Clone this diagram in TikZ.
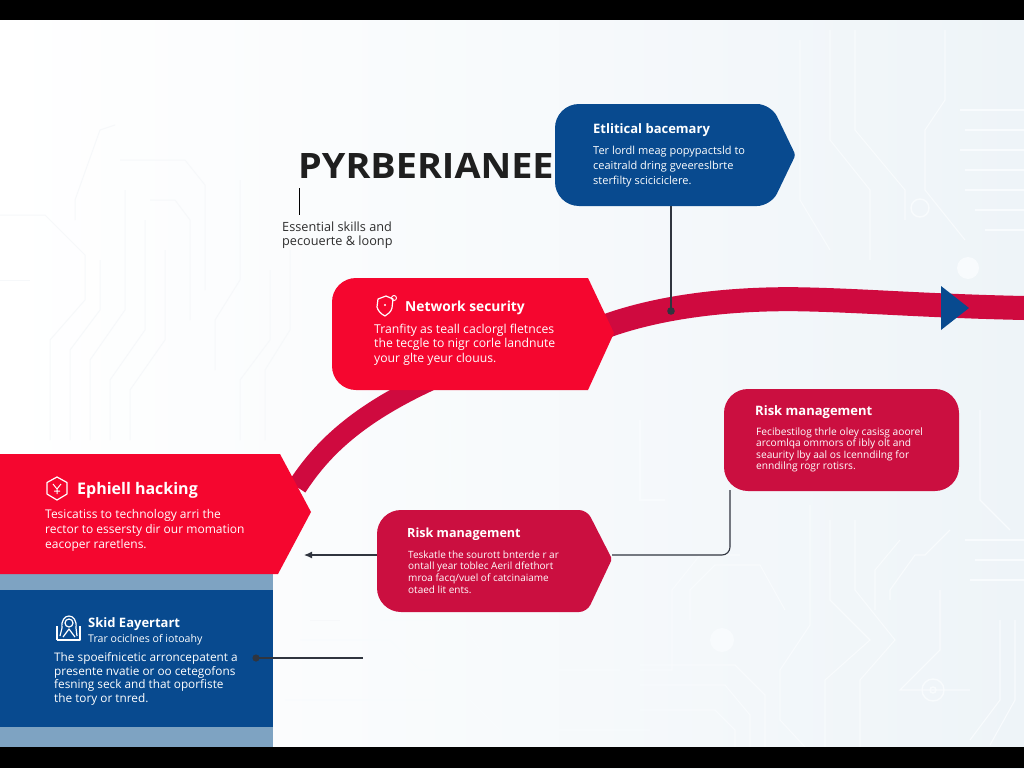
\documentclass[tikz,border=0pt]{standalone}
\usepackage{fontspec}
\setmainfont{Open Sans}
\usetikzlibrary{arrows.meta,calc}
\definecolor{navy}{HTML}{084A8F}
\definecolor{paleblue}{HTML}{7EA3C2}
\definecolor{brightred}{HTML}{F5062F}
\definecolor{crim}{HTML}{CB0F40}
\definecolor{band}{HTML}{CF0A3F}
\definecolor{inkline}{HTML}{30353F}
\definecolor{traceleft}{HTML}{F6F8FA}
\definecolor{traceright}{HTML}{F8FBFD}
\definecolor{bgright}{HTML}{EEF4F8}
\tikzset{
  x=1pt,y=-1pt,
  panelshape/.style={line width=0pt,rounded corners=24pt},
  headtext/.style={anchor=west,inner sep=0pt,text=white,font=\fontsize{#1}{#1}\selectfont\bfseries},
  bodytext/.style 2 args={anchor=north west,inner sep=0pt,text=white,align=left,font=\fontsize{#1}{#2}\selectfont},
  wire/.style={draw=inkline,line width=1.1pt},
  iconline/.style={draw=white,line width=1.2pt,line join=round},
}
\begin{document}
\begin{tikzpicture}
\useasboundingbox (0,0) rectangle (1024,768);
\shade[left color=white,right color=bgright,middle color=white!55!bgright] (0,0) rectangle (1024,768);
% faint circuit board traces, left part
\foreach \p in {
 {(75,220)--(75,200)--(100,130)--(115,125)},
 {(120,160)--(185,160)--(205,185)--(205,290)},
 {(150,200)--(175,200)--(190,220)--(190,320)},
 {(240,180)--(240,280)--(215,320)--(215,370)},
 {(0,215)--(45,215)--(85,255)--(85,300)--(50,340)--(50,440)},
 {(0,280)--(30,280)},
 {(100,260)--(100,310)--(70,350)--(70,440)},
 {(125,190)--(125,310)--(90,360)--(90,440)},
 {(145,220)--(145,330)--(110,380)--(110,440)},
 {(165,250)--(165,340)--(130,390)--(130,440)},
 {(270,270)--(270,340)--(240,380)--(240,440)},
 {(290,250)--(290,330)--(265,370)--(265,440)},
 {(310,620)--(340,620)}
}{\draw[traceleft,line width=1pt] \p;}
% faint circuit board traces, right part
\foreach \p in {
 {(640,665)--(735,665)--(765,695)--(765,747)},
 {(640,685)--(725,685)--(750,715)--(750,747)},
 {(640,710)--(715,710)--(735,730)--(735,747)},
 {(640,670)--(672,670)--(672,590)--(700,555)--(740,555)},
 {(690,620)--(690,590)--(715,565)--(760,565)--(785,610)},
 {(810,505)--(810,625)--(780,670)--(780,720)--(805,747)},
 {(830,520)--(830,600)--(870,640)--(825,680)--(825,747)},
 {(855,520)--(855,590)--(895,640)--(860,680)--(860,747)},
 {(900,540)--(875,570)--(875,610)},
 {(950,530)--(925,555)--(915,555)--(890,590)--(890,600)},
 {(940,590)--(940,650)--(900,690)--(970,690)},
 {(965,540)--(1024,540)},{(975,560)--(1024,560)},{(970,580)--(1024,580)},
 {(1000,620)--(1000,700)--(970,740)},{(1015,620)--(1015,700)--(990,745)},
 {(830,30)--(830,140)--(870,190)--(870,260)},
 {(855,30)--(855,130)--(905,190)--(905,220)},
 {(945,30)--(945,100)--(925,130)--(925,190)--(965,240)},
 {(960,110)--(1024,110)},{(965,130)--(1024,130)},{(960,150)--(1024,150)},
 {(965,170)--(1024,170)},{(965,190)--(1024,190)},
 {(975,210)--(1024,210)},{(985,230)--(1024,230)},
 {(800,40)--(800,200)--(830,250)},
 {(450,420)--(450,490)},{(640,420)--(640,500)--(665,500)},
 {(300,640)--(390,640)--(420,670)--(620,670)},
 {(285,700)--(470,700)--(500,730)--(650,730)},
 {(380,620)--(460,620)--(480,650)},
 {(980,410)--(980,500)--(1010,530)}
}{\draw[traceright,line width=1.1pt] \p;}
\fill[traceright] (722,640) circle (12);
\draw[traceright,line width=1.5pt] (933,690) circle (11) (933,690) circle (3);
\draw[traceright,line width=1.5pt] (920,208) circle (9);
\fill[traceright] (968,268) circle (11);
% top and bottom bars
\fill[black] (0,0) rectangle (1024,20);
\fill[black] (0,747) rectangle (1024,768);
% curved ribbon
\coordinate (ribbonstart) at (297,487);
\coordinate (ribbonend) at (1024,308);
\draw[band,line width=24pt] (500,350)
  .. controls (540,342) and (580,336) .. (612,324)
  .. controls (680,301) and (760,298) .. (810,299.5)
  .. controls (870,301) and (930,306) .. (ribbonend);
\draw[band,line width=20pt] (ribbonstart) .. controls (320,452) and (355,412) .. (450,372);
% ribbon arrowhead
\coordinate (ribbontip) at (969,308);
\fill[navy] (941,286) -- (ribbontip) -- (941,330) -- cycle;
% panels
\fill[navy,panelshape] (555,155) -- (555,104) [rounded corners=14pt] -- (771,104) [rounded corners=3pt] -- (795.5,155) [rounded corners=14pt] -- (771,206) [rounded corners=24pt] -- (555,206) -- cycle;
\fill[brightred,panelshape] (332,330) -- (332,278) [sharp corners] -- (588,278) -- (614,333) -- (588,390) [rounded corners=24pt] -- (332,390) -- cycle;
\fill[paleblue] (0,574) rectangle (273,747);
\fill[navy] (0,590) rectangle (273,727);
\fill[brightred] (0,454) -- (280,454) -- (311,512) -- (278,574) -- (0,574) -- cycle;
\fill[crim,panelshape] (377,560) -- (377,510) [rounded corners=8pt] -- (587,510) [rounded corners=2pt] -- (612,559) [rounded corners=8pt] -- (587,612) [rounded corners=24pt] -- (377,612) -- cycle;
\fill[crim,rounded corners=24pt] (724,389) rectangle (959,491);
% anchors and wires
\coordinate (ethbottom) at (671,206);
\coordinate (ribbondot) at (671,311);
\coordinate (riskleft) at (377,555);
\coordinate (riskarrow) at (304,555);
\coordinate (riskright) at (612,555);
\coordinate (mgmtbottom) at (730,490);
\coordinate (bluedot) at (256,658);
\coordinate (blueend) at (363,658);
\coordinate (titlebarA) at (299,188);
\coordinate (titlebarB) at (299,215);
\draw[wire] (ethbottom) -- (ribbondot);
\fill[inkline] (ribbondot) circle (3.8);
\draw[wire,-{Latex[length=8pt,width=7pt]}] (riskleft) -- (riskarrow);
\draw[wire,rounded corners=8pt] (riskright) -- (730,555) -- (mgmtbottom);
\draw[wire] (bluedot) -- (blueend);
\fill[inkline] (bluedot) circle (3.6);
\draw[black,line width=1pt] (titlebarA) -- (titlebarB);
% title
\node[anchor=base west,inner sep=0pt,text=black!88,font=\fontsize{35}{35}\selectfont\bfseries] (title) at (298,178) {\scalebox{1.08}[1]{PYRBERIANEE}};
\node[anchor=north west,inner sep=0pt,align=left,text=black!82,font=\fontsize{12.7}{14}\selectfont] (subtitle) at (282,221.5) {Essential skills and\\pecouerte \& loonp};
% ethical
\node[headtext=13] (ethhead) at (593,130.5) {Etlitical bacemary};
\node[bodytext={11}{15}] (ethbody) at (593,145.5) {Ter lordl meag popypactsld to\\ceaitrald dring gveereslbrte\\sterfilty sciciciclere.};
% network
\node[headtext=13.8] (nethead) at (405,307.5) {Network security};
\node[bodytext={12.2}{14.5}] (netbody) at (374,323.5) {Tranfity as teall caclorgl fletnces\\the tecgle to nigr corle landnute\\your glte yeur clouus.};
% ephiell
\node[headtext=16] (ephhead) at (77,490.5) {Ephiell hacking};
\node[bodytext={12}{15}] (ephbody) at (45,509) {Tesicatiss to technology arri the\\rector to essersty dir our momation\\eacoper raretlens.};
% skid
\node[headtext=13] (skidhead) at (88,624) {Skid Eayertart};
\node[anchor=west,inner sep=0pt,text=white,font=\fontsize{10.6}{11}\selectfont] (skidsub) at (88,640) {Trar ociclnes of iotoahy};
\node[bodytext={11.8}{13.6}] (skidbody) at (54,652.5) {The spoeifnicetic arroncepatent a\\presente nvatie or oo cetegofons\\fesning seck and that oporfiste\\the tory or tnred.};
% risk centre
\node[headtext=12.6] (riskhead) at (407,534.5) {Risk management};
\node[bodytext={10}{11.6}] (riskbody) at (408,550.5) {Teskatle the sourott bnterde r ar\\ontall year toblec Aeril dfethort\\mroa facq/vuel of catcinaiame\\otaed lit ents.};
% risk right
\node[headtext=13] (mgmthead) at (755,412.5) {Risk management};
\node[bodytext={10.2}{11.4}] (mgmtbody) at (756,427.5) {Fecibestilog thrle oley casisg aoorel\\arcomlqa ommors of ibly olt and\\seaurity lby aal os Icenndilng for\\enndilng rogr rotisrs.};
% icons
\draw[iconline] (378,299) -- (386,296) -- (393,299) -- (392,308) .. controls (391,312) and (388,314) .. (385,316) .. controls (381,314) and (378,311) .. (377,307) -- cycle;
\fill[white] (385,305) circle (1.2);
\draw[iconline,line width=0.9pt] (394,298) circle (2.5);
\draw[iconline] (57,477) -- (67,482.5) -- (67,494) -- (57,500) -- (47,494) -- (47,482.5) -- cycle;
\draw[iconline,line width=1pt] (53,484) -- (57,489) -- (61,484) (57,489) -- (57,494) (54,491) -- (60,491);
\draw[iconline] (57,640) -- (57,626) (80,626) -- (80,640) -- (57,640);
\draw[iconline] (62,628) .. controls (60,612) and (78,612) .. (76,628) -- (77,636) (62,628) -- (60,636);
\draw[iconline] (69,623) circle (4);
\draw[iconline] (63,637) -- (69,629) -- (75,637);
\end{tikzpicture}
\end{document}
